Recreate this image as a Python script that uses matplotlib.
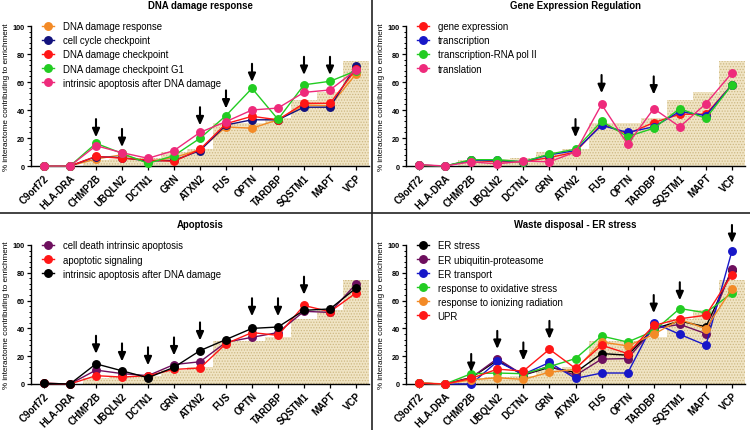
import matplotlib
matplotlib.use("Agg")
import matplotlib.pyplot as plt
from matplotlib.ticker import MultipleLocator
from matplotlib.lines import Line2D

plt.rcParams['font.family'] = ['Liberation Sans', 'DejaVu Sans']
plt.rcParams['hatch.linewidth'] = 0.6

genes = ["C9orf72", "HLA-DRA", "CHMP2B", "UBQLN2", "DCTN1", "GRN", "ATXN2",
         "FUS", "OPTN", "TARDBP", "SQSTM1", "MAPT", "VCP"]
background = [0, 0, 4, 5, 6, 10, 12, 31, 31, 34, 47, 53, 75]

# Panel 1: DNA damage response
p1_title = "DNA damage response"
p1_dna_damage_response = [0, 0, 5, 8, 3, 6, 11.7, 27.9, 27, 33, 43.6, 43, 65.7]
p1_cell_cycle_checkpoint = [0, 0, 6.7, 6, 3.6, 4, 11, 29.3, 33, 33, 42, 42, 71.7]
p1_dna_damage_checkpoint = [0, 0, 6.9, 5.5, 4.3, 3.3, 11.9, 30.2, 35.5, 33, 44.8, 44.8, 69]
p1_dna_damage_checkpoint_g1 = [0, 0, 16.2, 9, 1.9, 7.4, 19.8, 36, 55.5, 33.3, 58, 60.5, 68]
p1_intrinsic_apoptosis = [0, 0, 14.5, 9.5, 5.5, 11, 24, 31.7, 40, 41.4, 52.6, 54.3, 68.6]
p1_arrow_genes = ["CHMP2B", "UBQLN2", "ATXN2", "FUS", "OPTN", "SQSTM1", "MAPT"]
p1_arrow_tips = [20.5, 13.5, 29, 41, 60, 65, 65]

# Panel 2: Gene Expression Regulation
p2_title = "Gene Expression Regulation"
p2_gene_expression = [0.5, 0, 4, 3, 3, 6, 10, 30, 23, 31, 37, 37, 58]
p2_transcription = [0.5, 0, 4, 4, 3, 8, 11, 29, 24, 28, 39, 36, 58]
p2_transcription_pol2 = [0.5, 0, 4.5, 4.5, 3, 8.5, 12, 32, 21, 27, 41, 34, 58]
p2_translation = [1, 0, 3, 1.5, 3.5, 3, 10, 44, 15.5, 41, 28, 44.5, 66.5]
p2_arrow_genes = ["ATXN2", "FUS", "TARDBP"]
p2_arrow_tips = [20.5, 52, 51]

# Panel 3: Apoptosis
p3_title = "Apoptosis"
p3_cell_death_intrinsic = [0.5, 0, 10, 7.5, 6, 14, 16, 30, 33.6, 37, 52.3, 51.5, 72]
p3_apoptotic_signaling = [0.5, 0, 6, 5, 6, 10.5, 11.5, 29, 37, 35, 56.5, 52, 65.5]
p3_intrinsic_after_dna = [0.5, 0, 14.5, 9.5, 4.5, 12, 24, 32, 40, 41, 53, 54, 69]
p3_arrow_genes = ["CHMP2B", "UBQLN2", "DCTN1", "GRN", "ATXN2", "OPTN", "TARDBP", "SQSTM1"]
p3_arrow_tips = [21.7, 16.2, 13.4, 20.5, 31.3, 48.7, 48.7, 64.2]

# Panel 4: Waste disposal - ER stress
p4_title = "Waste disposal - ER stress"
p4_er_stress = [0.5, 0, 4.5, 17, 6.4, 12, 8.3, 21.9, 20.7, 39.8, 45.2, 41.2, 81.7]
p4_er_ubiquitin = [0.5, 0, 4.5, 18.3, 6.4, 13, 6.2, 17.9, 18.3, 39.8, 42.9, 36.2, 82.9]
p4_er_transport = [0.5, 0, 0, 16.2, 7, 15.5, 4, 7.9, 7.9, 44, 35.7, 27.9, 95.7]
p4_oxidative_stress = [0.5, 0, 7.4, 7.9, 7.4, 12.5, 18.3, 34.5, 30.2, 38.1, 54.3, 51.2, 65.5]
p4_ionizing_radiation = [1, 0, 3, 4.5, 3.3, 8.5, 10.5, 30.2, 27.4, 35.7, 46.4, 39.8, 68.6]
p4_upr = [0.5, 0, 4, 10.7, 9.3, 25, 11.2, 27.9, 21.9, 42.1, 46.9, 49.5, 78.6]
p4_arrow_genes = ["CHMP2B", "UBQLN2", "DCTN1", "GRN", "TARDBP", "SQSTM1", "VCP"]
p4_arrow_tips = [8.6, 25.2, 16.9, 32.4, 51, 60.2, 101.4]

ORANGE = '#F38A26'
NAVY = '#12127E'
RED = '#FF1616'
GREEN = '#22CC22'
PINK = '#EE2A7B'
BLUE = '#1717C8'
PURPLE = '#6E0F5E'
BLACK = '#000000'

panels = [
    (p1_title, [("DNA damage response", p1_dna_damage_response, ORANGE),
                ("cell cycle checkpoint", p1_cell_cycle_checkpoint, NAVY),
                ("DNA damage checkpoint", p1_dna_damage_checkpoint, RED),
                ("DNA damage checkpoint G1", p1_dna_damage_checkpoint_g1, GREEN),
                ("intrinsic apoptosis after DNA damage", p1_intrinsic_apoptosis, PINK)],
     p1_arrow_genes, p1_arrow_tips),
    (p2_title, [("gene expression", p2_gene_expression, RED),
                ("transcription", p2_transcription, BLUE),
                ("transcription-RNA pol II", p2_transcription_pol2, GREEN),
                ("translation", p2_translation, PINK)],
     p2_arrow_genes, p2_arrow_tips),
    (p3_title, [("cell death intrinsic apoptosis", p3_cell_death_intrinsic, PURPLE),
                ("apoptotic signaling", p3_apoptotic_signaling, RED),
                ("intrinsic apoptosis after DNA damage", p3_intrinsic_after_dna, BLACK)],
     p3_arrow_genes, p3_arrow_tips),
    (p4_title, [("ER stress", p4_er_stress, BLACK),
                ("ER ubiquitin-proteasome", p4_er_ubiquitin, PURPLE),
                ("ER transport", p4_er_transport, BLUE),
                ("response to oxidative stress", p4_oxidative_stress, GREEN),
                ("response to ionizing radiation", p4_ionizing_radiation, ORANGE),
                ("UPR", p4_upr, RED)],
     p4_arrow_genes, p4_arrow_tips),
]

W, H = 750, 431
fig = plt.figure(figsize=(7.5, 4.31), dpi=100)

rects = [
    (31, 27, 369, 167),
    (406, 27, 745, 167),
    (31, 246, 369, 385),
    (406, 246, 745, 385),
]

x = list(range(len(genes)))
for (title, series, arrow_genes, arrow_tips), (l, t, r, b) in zip(panels, rects):
    ax = fig.add_axes([l / W, 1 - b / H, (r - l) / W, (b - t) / H])
    ax.bar(x, background, width=1.0, color='#F0E4C4', edgecolor='#CDB882',
           linewidth=0, hatch='......', zorder=0)
    for name, vals, col in series:
        ax.plot(x, vals, '-o', color=col, lw=1.0, ms=5.4, label=name,
                clip_on=False, zorder=3)
    for g, tip in zip(arrow_genes, arrow_tips):
        xi = genes.index(g)
        ax.annotate('', xy=(xi, tip), xytext=(xi, tip + 13),
                    arrowprops=dict(arrowstyle='-|>,head_length=0.5,head_width=0.22',
                                    color='black', lw=1.5,
                                    mutation_scale=10, shrinkA=0, shrinkB=0),
                    annotation_clip=False, zorder=4)
    ax.set_xlim(-0.5, 12.5)
    ax.set_ylim(0, 100)
    ax.set_xticks(x)
    ax.set_xticklabels(genes, rotation=45, ha='right', rotation_mode='anchor',
                       fontsize=7, fontweight='bold')
    ax.set_yticks([0, 20, 40, 60, 80, 100])
    ax.yaxis.set_minor_locator(MultipleLocator(4))
    ax.tick_params(axis='y', labelsize=5.2, width=0.9, length=3, pad=1.5)
    ax.tick_params(axis='y', which='minor', length=1.5, width=0.7)
    ax.tick_params(axis='x', length=3, width=0.9, pad=1.5)
    for lab in ax.get_yticklabels():
        lab.set_fontweight('bold')
    ax.spines['top'].set_visible(False)
    ax.spines['right'].set_visible(False)
    ax.spines['left'].set_linewidth(1.0)
    ax.spines['bottom'].set_linewidth(1.0)
    ax.set_ylabel("% interactome contributing to enrichment", fontsize=5.9, labelpad=2)
    ax.set_title(title, fontsize=6.9, fontweight='bold', pad=13)
    ax.legend(loc='upper left', bbox_to_anchor=(0.02, 1.06), frameon=False,
              fontsize=6.9, handlelength=1.3, handletextpad=0.9,
              labelspacing=0.42, borderaxespad=0)
    ax.set_facecolor('none')

# panel divider lines
fig.add_artist(Line2D([372 / W, 372 / W], [0, 1], color='#222222', lw=1.2))
fig.add_artist(Line2D([0, 1], [1 - 213.5 / H, 1 - 213.5 / H], color='#222222', lw=1.2))

fig.savefig("out.png", dpi=100)
